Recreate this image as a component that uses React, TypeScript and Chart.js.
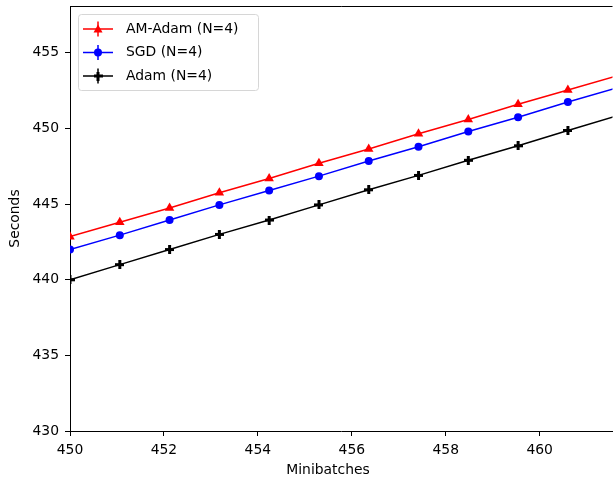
import React, { useEffect, useRef } from "react";
import { Chart, registerables } from "chart.js";

Chart.register(...registerables);

const minibatches = [450, 451.06, 452.12, 453.18, 454.24, 455.3, 456.36, 457.42, 458.48, 459.54, 460.6, 461.66];
const amAdam = [442.85, 443.8, 444.75, 445.75, 446.7, 447.7, 448.65, 449.65, 450.6, 451.6, 452.55, 453.5];
const sgd = [442.0, 442.95, 443.95, 444.95, 445.9, 446.85, 447.85, 448.8, 449.8, 450.75, 451.75, 452.7];
const adam = [440.0, 441.0, 442.0, 443.0, 443.95, 444.95, 445.95, 446.9, 447.9, 448.86, 449.87, 450.85];
const seriesLabels = ["AM-Adam (N=4)", "SGD (N=4)", "Adam (N=4)"];
const xTicks = [450, 452, 454, 456, 458, 460];
const yTicks = [430, 435, 440, 445, 450, 455];

const FONT = "DejaVu Sans";
const FS = 13.9;
const CW = 618;

function plusMarker(color: string): HTMLCanvasElement {
  const c = document.createElement("canvas");
  c.width = 9;
  c.height = 9;
  const g = c.getContext("2d")!;
  g.fillStyle = color;
  g.fillRect(3, 0, 3, 9);
  g.fillRect(0, 3, 9, 3);
  return c;
}

export default function App() {
  const ref = useRef<HTMLCanvasElement>(null);
  useEffect(() => {
    const plus = plusMarker("#000000");
    const pts = (ys: number[]) => minibatches.map((x, i) => ({ x, y: ys[i] }));
    const colors = ["#ff0000", "#0000ff", "#000000"];
    const styles: any[] = ["triangle", "circle", plus];
    const radii = [5.5, 4, 4.5];

    const overlay = {
      id: "overlay",
      afterDraw(chart: any) {
        const ctx = chart.ctx;
        const a = chart.chartArea;
        ctx.save();
        ctx.strokeStyle = "#000";
        ctx.lineWidth = 1;
        ctx.beginPath();
        ctx.moveTo(a.left, a.top + 0.5);
        ctx.lineTo(a.right, a.top + 0.5);
        ctx.stroke();
        ctx.fillStyle = "#000";
        ctx.font = `${FS}px "${FONT}"`;
        ctx.textAlign = "center";
        ctx.textBaseline = "middle";
        ctx.fillText("Minibatches", 328, 470);
        ctx.save();
        ctx.translate(15, (a.top + a.bottom) / 2);
        ctx.rotate(-Math.PI / 2);
        ctx.fillText("Seconds", 0, 0);
        ctx.restore();
        const lx = 78.5, ly = 14.5, lw = 180, lh = 76, r = 3;
        ctx.beginPath();
        ctx.moveTo(lx + r, ly);
        ctx.lineTo(lx + lw - r, ly);
        ctx.arcTo(lx + lw, ly, lx + lw, ly + r, r);
        ctx.lineTo(lx + lw, ly + lh - r);
        ctx.arcTo(lx + lw, ly + lh, lx + lw - r, ly + lh, r);
        ctx.lineTo(lx + r, ly + lh);
        ctx.arcTo(lx, ly + lh, lx, ly + lh - r, r);
        ctx.lineTo(lx, ly + r);
        ctx.arcTo(lx, ly, lx + r, ly, r);
        ctx.closePath();
        ctx.fillStyle = "rgba(255,255,255,0.8)";
        ctx.fill();
        ctx.strokeStyle = "#d6d6d6";
        ctx.stroke();
        const rows = [29, 52.5, 76];
        seriesLabels.forEach((lab, i) => {
          const y = rows[i];
          ctx.strokeStyle = colors[i];
          ctx.lineWidth = 1.5;
          ctx.beginPath();
          ctx.moveTo(83, y);
          ctx.lineTo(113, y);
          ctx.moveTo(98, y - 7.5);
          ctx.lineTo(98, y + 7.5);
          ctx.stroke();
          ctx.fillStyle = colors[i];
          if (i === 0) {
            ctx.beginPath();
            ctx.moveTo(98, y - 4.5);
            ctx.lineTo(102.5, y + 3.5);
            ctx.lineTo(93.5, y + 3.5);
            ctx.closePath();
            ctx.fill();
          } else if (i === 1) {
            ctx.beginPath();
            ctx.arc(98, y, 4, 0, Math.PI * 2);
            ctx.fill();
          } else {
            ctx.drawImage(plus, 93.5, y - 4.5);
          }
          ctx.fillStyle = "#000";
          ctx.textAlign = "left";
          ctx.textBaseline = "middle";
          ctx.fillText(lab, 126, y);
        });
        ctx.restore();
      },
    };

    const chart = new Chart(ref.current!, {
      type: "line",
      data: {
        datasets: [amAdam, sgd, adam].map((ys, i) => ({
          label: seriesLabels[i],
          data: pts(ys),
          borderColor: colors[i],
          backgroundColor: colors[i],
          borderWidth: 1.5,
          pointStyle: styles[i],
          pointRadius: radii[i],
          pointBorderWidth: 0,
          pointBackgroundColor: colors[i],
          pointBorderColor: colors[i],
          tension: 0,
          clip: 0,
        })),
      },
      plugins: [overlay],
      options: {
        responsive: false,
        animation: false,
        events: [],
        layout: { padding: { top: 6, right: 0, left: 0, bottom: 0 } },
        plugins: { legend: { display: false }, tooltip: { enabled: false } },
        scales: {
          x: {
            type: "linear",
            min: 450,
            max: 461.55,
            afterBuildTicks: (s: any) => {
              s.ticks = xTicks.map((v) => ({ value: v }));
            },
            afterFit: (s: any) => {
              s.height = 47;
              s.paddingLeft = 0;
              s.paddingRight = 0;
            },
            ticks: {
              color: "#000",
              font: { family: FONT, size: FS },
              padding: 6,
              maxRotation: 0,
              autoSkip: false,
            },
            grid: {
              display: true,
              drawOnChartArea: false,
              drawTicks: true,
              tickLength: 5,
              color: "#000",
              lineWidth: 1,
            },
            border: { display: true, color: "#000", width: 1 },
          },
          y: {
            type: "linear",
            min: 430,
            max: 458.1,
            afterBuildTicks: (s: any) => {
              s.ticks = yTicks.map((v) => ({ value: v }));
            },
            afterFit: (s: any) => {
              s.width = 70;
              s.paddingTop = 0;
              s.paddingBottom = 0;
            },
            ticks: {
              color: "#000",
              font: { family: FONT, size: FS },
              padding: 6,
              autoSkip: false,
            },
            grid: {
              display: true,
              drawOnChartArea: false,
              drawTicks: true,
              tickLength: 5,
              color: "#000",
              lineWidth: 1,
            },
            border: { display: true, color: "#000", width: 1 },
          },
        },
      },
    } as any);
    return () => chart.destroy();
  }, []);
  return (
    <div
      style={{ position: "fixed", left: 0, top: 0, width: 613, height: 478, overflow: "hidden", background: "#fff" }}
    >
      <canvas
        ref={ref}
        width={CW}
        height={478}
        style={{ position: "absolute", left: 0, top: 0, width: CW, height: 478 }}
      />
    </div>
  );
}
